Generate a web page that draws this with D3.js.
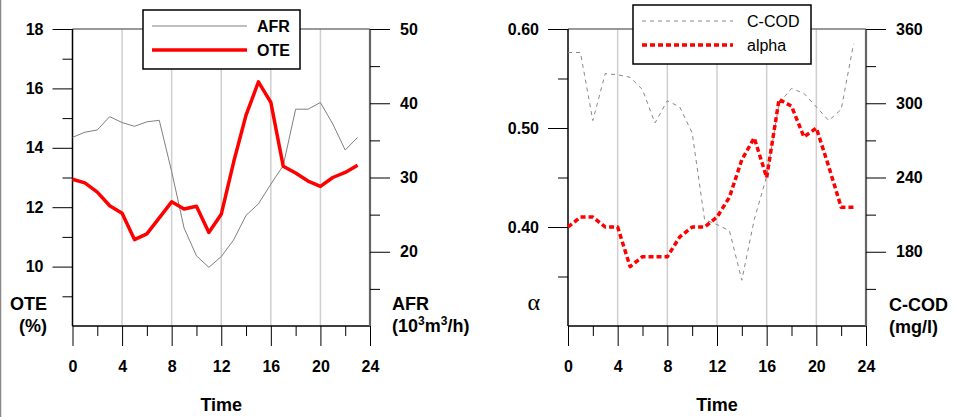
<!DOCTYPE html>
<html>
<head>
<meta charset="utf-8">
<script src="https://cdn.jsdelivr.net/npm/d3@7"></script>
<style>
    body { margin: 0; background: #fff; }
    svg { display: block; font-family: "Liberation Sans", Arial, sans-serif; }
    .tick text { font-size: 16px; font-weight: bold; fill: #000; }
    .tick line { stroke: #000; stroke-width: 1; }
    .domain { display: none; }
</style>
</head>
<body>
<svg id="chart" width="955" height="417"></svg>
<script>
const hours = [0, 1, 2, 3, 4, 5, 6, 7, 8, 9, 10, 11, 12, 13, 14, 15, 16, 17, 18, 19, 20, 21, 22, 23];

// left panel
const ote = [12.94, 12.82, 12.51, 12.05, 11.80, 10.91, 11.10, 11.64, 12.18, 11.94, 12.03, 11.15,
             11.76, 13.52, 15.10, 16.22, 15.53, 13.38, 13.15, 12.88, 12.70, 13.00, 13.17, 13.41];
const afr = [35.4, 36.1, 36.4, 38.2, 37.4, 36.9, 37.5, 37.7, 30.8, 23.2, 19.45, 17.9,
             19.35, 21.6, 24.9, 26.45, 29.1, 31.6, 39.2, 39.2, 40.1, 37.2, 33.7, 35.4];

// right panel
const alpha = [0.400, 0.410, 0.410, 0.400, 0.400, 0.360, 0.370, 0.370, 0.370, 0.390, 0.400, 0.400,
               0.410, 0.430, 0.468, 0.490, 0.450, 0.529, 0.522, 0.491, 0.500, 0.461, 0.420, 0.420];
const ccod = [341, 341, 286, 324, 323, 321, 311, 284, 302, 297, 276, 206,
              202, 197, 157, 206, 241, 300, 312, 308, 297, 286, 295, 348];

const timeTicks = [0, 4, 8, 12, 16, 20, 24];
const timeMinor = [2, 6, 10, 14, 18, 22];
const oteTicks = [10, 12, 14, 16, 18];
const oteMinor = [9, 11, 13, 15, 17];
const afrTicks = [20, 30, 40, 50];
const afrMinor = [15, 25, 35, 45];
const alphaTicks = [0.40, 0.50, 0.60];
const alphaMinor = [0.35, 0.45, 0.55];
const ccodTicks = [180, 240, 300, 360];
const ccodMinor = [150, 210, 270, 330];

const svg = d3.select("#chart");
svg.append("rect").attr("width", 955).attr("height", 417).attr("fill", "#fff");
svg.append("line")
    .attr("x1", 0.5).attr("y1", 0).attr("x2", 0.5).attr("y2", 417)
    .attr("stroke", "#888").attr("stroke-width", 1.5);

const plotTop = 29, plotBottom = 326;

function drawPanel(p) {
    const g = svg.append("g");
    const x = d3.scaleLinear().domain([0, 24]).range([p.left, p.right]);
    const yL = d3.scaleLinear().domain(p.leftDomain).range([plotBottom, plotTop]);
    const yR = d3.scaleLinear().domain(p.rightDomain).range([plotBottom, plotTop]);

    // grid
    g.selectAll(".grid").data(timeTicks.slice(1, -1)).enter().append("line")
        .attr("x1", d => x(d)).attr("x2", d => x(d))
        .attr("y1", plotTop).attr("y2", plotBottom)
        .attr("stroke", "#cfcfcf").attr("stroke-width", 1.5);

    // frame
    g.append("line").attr("x1", p.left).attr("x2", p.right).attr("y1", plotTop).attr("y2", plotTop)
        .attr("stroke", "#777").attr("stroke-width", 1.5);
    g.append("line").attr("x1", p.left).attr("x2", p.right).attr("y1", plotBottom).attr("y2", plotBottom)
        .attr("stroke", "#000").attr("stroke-width", 1.5);
    g.append("line").attr("x1", p.left).attr("x2", p.left).attr("y1", plotTop).attr("y2", plotBottom)
        .attr("stroke", "#000").attr("stroke-width", 1.5);
    g.append("line").attr("x1", p.right).attr("x2", p.right).attr("y1", plotTop).attr("y2", plotBottom)
        .attr("stroke", "#666").attr("stroke-width", 2.2);

    // axes
    g.append("g").attr("transform", `translate(0,${plotBottom})`)
        .call(d3.axisBottom(x).tickValues(timeTicks).tickSize(20).tickPadding(15));
    g.append("g").attr("transform", `translate(0,${plotBottom})`)
        .call(d3.axisBottom(x).tickValues(timeMinor).tickSize(10).tickFormat(""));
    g.append("g").attr("transform", `translate(${p.left},0)`)
        .call(d3.axisLeft(yL).tickValues(p.leftTicks).tickSize(20).tickPadding(9).tickFormat(p.leftFormat));
    g.append("g").attr("transform", `translate(${p.left},0)`)
        .call(d3.axisLeft(yL).tickValues(p.leftMinor).tickSize(10).tickFormat(""));
    g.append("g").attr("transform", `translate(${p.right},0)`)
        .call(d3.axisRight(yR).tickValues(p.rightTicks).tickSize(20).tickPadding(10));
    g.append("g").attr("transform", `translate(${p.right},0)`)
        .call(d3.axisRight(yR).tickValues(p.rightMinor).tickSize(10).tickFormat(""));

    // series
    g.append("path").datum(hours)
        .attr("fill", "none")
        .attr("stroke", p.rightStyle.color).attr("stroke-width", p.rightStyle.width)
        .attr("stroke-dasharray", p.rightStyle.dash)
        .attr("d", d3.line().x(h => x(h)).y((h, i) => yR(p.rightData[i])));
    g.append("path").datum(hours)
        .attr("fill", "none")
        .attr("stroke", p.leftStyle.color).attr("stroke-width", p.leftStyle.width)
        .attr("stroke-dasharray", p.leftStyle.dash)
        .attr("stroke-linejoin", "round")
        .attr("d", d3.line().x(h => x(h)).y((h, i) => yL(p.leftData[i])));

    // axis titles
    g.append("text")
        .attr("x", (p.left + p.right) / 2).attr("y", 411)
        .attr("text-anchor", "middle")
        .style("font-size", "18px").style("font-weight", "bold")
        .text("Time");

    // legend
    const lg = g.append("g");
    lg.append("rect")
        .attr("x", p.legend.x).attr("y", p.legend.y)
        .attr("width", p.legend.w).attr("height", 59)
        .attr("fill", "#fff").attr("stroke", "#000").attr("stroke-width", 1.5);
    const entries = [
        { label: p.rightName, style: p.rightStyle },
        { label: p.leftName, style: p.leftStyle }
    ];
    entries.forEach((e, i) => {
        const cy = p.legend.y + 16 + i * 24;
        lg.append("line")
            .attr("x1", p.legend.x + 9).attr("x2", p.legend.x + p.legend.line)
            .attr("y1", cy).attr("y2", cy)
            .attr("stroke", e.style.color).attr("stroke-width", e.style.width)
            .attr("stroke-dasharray", e.style.dash);
        lg.append("text")
            .attr("x", p.legend.x + p.legend.line + p.legend.gap).attr("y", cy + 6)
            .style("font-size", "16px").style("font-weight", p.legend.weight)
            .text(e.label);
    });
    return g;
}

const leftPanel = drawPanel({
    left: 72.5, right: 370,
    leftDomain: [8, 18], rightDomain: [10, 50],
    leftTicks: oteTicks, leftMinor: oteMinor, leftFormat: d3.format("d"),
    rightTicks: afrTicks, rightMinor: afrMinor,
    leftData: ote, rightData: afr,
    leftName: "OTE", rightName: "AFR",
    leftStyle: { color: "#ff0000", width: 3.5, dash: null },
    rightStyle: { color: "#808080", width: 1, dash: null },
    legend: { x: 143, y: 10, w: 157, line: 104, gap: 10, weight: "bold" }
});

const rightPanel = drawPanel({
    left: 568, right: 866,
    leftDomain: [0.30, 0.60], rightDomain: [120, 360],
    leftTicks: alphaTicks, leftMinor: alphaMinor, leftFormat: d3.format(".2f"),
    rightTicks: ccodTicks, rightMinor: ccodMinor,
    leftData: alpha, rightData: ccod,
    leftName: "alpha", rightName: "C-COD",
    leftStyle: { color: "#ff0000", width: 3.5, dash: "5,3" },
    rightStyle: { color: "#888", width: 1, dash: "4,4" },
    legend: { x: 633, y: 5, w: 178, line: 100, gap: 14, weight: "normal" }
});

function label(g, x, y, lines, anchor) {
    lines.forEach((l, i) => {
        const t = g.append("text")
            .attr("x", x).attr("y", y + i * 22)
            .attr("text-anchor", anchor)
            .style("font-size", "18px").style("font-weight", "bold");
        if (typeof l === "string") t.text(l);
        else l(t);
    });
}

label(leftPanel, 47, 310, ["OTE", "(%)"], "end");
label(leftPanel, 392, 310, ["AFR", t => {
    t.append("tspan").text("(10");
    t.append("tspan").attr("dy", -7).style("font-size", "12px").text("3");
    t.append("tspan").attr("dy", 7).text("m");
    t.append("tspan").attr("dy", -7).style("font-size", "12px").text("3");
    t.append("tspan").attr("dy", 7).text("/h)");
}], "start");
label(rightPanel, 889, 311, ["C-COD", "(mg/l)"], "start");

rightPanel.append("text")
    .attr("x", 540).attr("y", 310)
    .attr("text-anchor", "end")
    .style("font-family", "'Liberation Serif', 'DejaVu Serif', serif")
    .style("font-size", "24px")
    .text("α");
</script>
</body>
</html>
